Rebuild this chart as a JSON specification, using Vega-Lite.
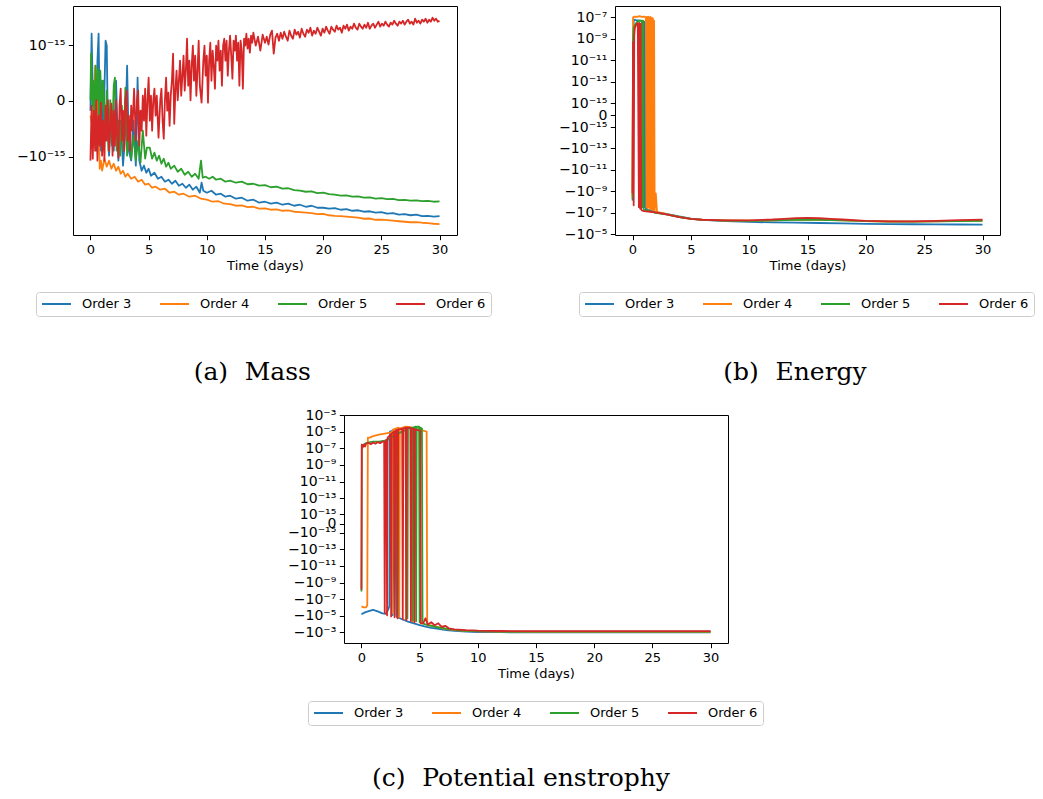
{
"$schema": "https://vega.github.io/schema/vega-lite/v6.json",
"padding": {"left": 16, "top": 5, "right": 2, "bottom": 2},
"background": "white",
"config": {
  "view": {"stroke": "black", "strokeWidth": 1},
  "font": "DejaVu Sans",
  "axis": {"labelFont": "DejaVu Sans", "labelFontSize": 13, "labelColor": "black", "tickColor": "black", "tickSize": 4.7, "tickWidth": 1, "domain": false, "grid": false, "labelPadding": 3.5, "titleFont": "DejaVu Sans", "titleFontSize": 13, "titleFontWeight": "normal", "titleColor": "black", "titlePadding": 3, "labelOverlap": false, "labelFlush": false, "labelBound": false},
  "axisY": {"labelFontSize": 14},
  "legend": {"direction": "horizontal", "columns": 4, "symbolType": "stroke", "symbolSize": 841, "symbolStrokeWidth": 1.8, "clipHeight": 14, "labelFont": "DejaVu Sans", "labelFontSize": 13, "labelColor": "black", "labelOffset": 10, "columnPadding": 27, "padding": 5, "strokeColor": "#cccccc", "fillColor": "white", "cornerRadius": 3, "labelLimit": 0}
},
"datasets": {
"mass": [
{"day":0,"value":-4.7e-17,"order":"Order 3"},{"day":0.1,"value":1.77e-15,"order":"Order 3"},{"day":0.2,"value":5.1e-17,"order":"Order 3"},{"day":0.3,"value":-4.38e-16,"order":"Order 3"},{"day":0.4,"value":0,"order":"Order 3"},{"day":0.5,"value":-7.42e-16,"order":"Order 3"},{"day":0.6,"value":4.52e-16,"order":"Order 3"},{"day":0.7,"value":1.77e-15,"order":"Order 3"},{"day":0.8,"value":-1.24e-16,"order":"Order 3"},{"day":0.9,"value":-7.42e-16,"order":"Order 3"},{"day":1.0,"value":1.3e-16,"order":"Order 3"},{"day":1.1,"value":-2.45e-16,"order":"Order 3"},{"day":1.2,"value":5.1e-17,"order":"Order 3"},{"day":1.3,"value":1.26e-15,"order":"Order 3"},{"day":1.4,"value":9.85e-16,"order":"Order 3"},{"day":1.5,"value":-2.45e-16,"order":"Order 3"},{"day":1.6,"value":-9.56e-16,"order":"Order 3"},{"day":1.8,"value":-4.7e-17,"order":"Order 3"},{"day":2.0,"value":-7.42e-16,"order":"Order 3"},{"day":2.2,"value":1.3e-16,"order":"Order 3"},{"day":2.4,"value":-1.22e-15,"order":"Order 3"},{"day":2.6,"value":-1.24e-16,"order":"Order 3"},{"day":2.8,"value":-1.56e-15,"order":"Order 3"},{"day":3.0,"value":-2.45e-16,"order":"Order 3"},{"day":3.15,"value":3.42e-16,"order":"Order 3"},{"day":3.3,"value":-7.42e-16,"order":"Order 3"},{"day":3.5,"value":-1.22e-15,"order":"Order 3"},{"day":3.7,"value":-1.24e-16,"order":"Order 3"},{"day":3.9,"value":-1.56e-15,"order":"Order 3"},{"day":4.05,"value":1.61e-16,"order":"Order 3"},{"day":4.2,"value":-1.22e-15,"order":"Order 3"},{"day":4.4,"value":-1.99e-15,"order":"Order 3"},{"day":4.6,"value":-1.56e-15,"order":"Order 3"},{"day":4.8,"value":-2.19e-15,"order":"Order 3"},{"day":5.0,"value":-1.81e-15,"order":"Order 3"},{"day":5.2,"value":-2.53e-15,"order":"Order 3"},{"day":5.5,"value":-2.19e-15,"order":"Order 3"},{"day":5.8,"value":-2.91e-15,"order":"Order 3"},{"day":6.1,"value":-2.65e-15,"order":"Order 3"},{"day":6.4,"value":-3.35e-15,"order":"Order 3"},{"day":6.7,"value":-3.05e-15,"order":"Order 3"},{"day":7.0,"value":-3.69e-15,"order":"Order 3"},{"day":7.3,"value":-3.2e-15,"order":"Order 3"},{"day":7.6,"value":-4.05e-15,"order":"Order 3"},{"day":7.9,"value":-3.69e-15,"order":"Order 3"},{"day":8.2,"value":-4.45e-15,"order":"Order 3"},{"day":8.5,"value":-3.86e-15,"order":"Order 3"},{"day":8.8,"value":-4.88e-15,"order":"Order 3"},{"day":9.1,"value":-4.24e-15,"order":"Order 3"},{"day":9.4,"value":-5.62e-15,"order":"Order 3"},{"day":9.55,"value":-3.52e-15,"order":"Order 3"},{"day":9.7,"value":-5.12e-15,"order":"Order 3"},{"day":10.0,"value":-5.62e-15,"order":"Order 3"},{"day":10.4,"value":-5.12e-15,"order":"Order 3"},{"day":10.8,"value":-6.17e-15,"order":"Order 3"},{"day":11.2,"value":-5.89e-15,"order":"Order 3"},{"day":11.6,"value":-6.77e-15,"order":"Order 3"},{"day":12.0,"value":-6.46e-15,"order":"Order 3"},{"day":12.5,"value":-7.43e-15,"order":"Order 3"},{"day":13.0,"value":-7.09e-15,"order":"Order 3"},{"day":13.5,"value":-8.16e-15,"order":"Order 3"},{"day":14.0,"value":-7.79e-15,"order":"Order 3"},{"day":14.5,"value":-8.95e-15,"order":"Order 3"},{"day":15.0,"value":-8.55e-15,"order":"Order 3"},{"day":15.5,"value":-9.38e-15,"order":"Order 3"},{"day":16,"value":-8.95e-15,"order":"Order 3"},{"day":16.5,"value":-9.83e-15,"order":"Order 3"},{"day":17,"value":-9.38e-15,"order":"Order 3"},{"day":17.5,"value":-1.03e-14,"order":"Order 3"},{"day":18,"value":-9.83e-15,"order":"Order 3"},{"day":18.5,"value":-1.08e-14,"order":"Order 3"},{"day":19,"value":-1.03e-14,"order":"Order 3"},{"day":19.5,"value":-1.13e-14,"order":"Order 3"},{"day":20,"value":-1.13e-14,"order":"Order 3"},{"day":20.5,"value":-1.18e-14,"order":"Order 3"},{"day":21,"value":-1.15e-14,"order":"Order 3"},{"day":21.5,"value":-1.24e-14,"order":"Order 3"},{"day":22,"value":-1.21e-14,"order":"Order 3"},{"day":22.5,"value":-1.3e-14,"order":"Order 3"},{"day":23,"value":-1.27e-14,"order":"Order 3"},{"day":23.5,"value":-1.36e-14,"order":"Order 3"},{"day":24,"value":-1.33e-14,"order":"Order 3"},{"day":24.5,"value":-1.42e-14,"order":"Order 3"},{"day":25,"value":-1.39e-14,"order":"Order 3"},{"day":25.5,"value":-1.49e-14,"order":"Order 3"},{"day":26,"value":-1.45e-14,"order":"Order 3"},{"day":26.5,"value":-1.56e-14,"order":"Order 3"},{"day":27,"value":-1.52e-14,"order":"Order 3"},{"day":27.5,"value":-1.6e-14,"order":"Order 3"},{"day":28,"value":-1.56e-14,"order":"Order 3"},{"day":28.5,"value":-1.67e-14,"order":"Order 3"},{"day":29,"value":-1.64e-14,"order":"Order 3"},{"day":29.5,"value":-1.71e-14,"order":"Order 3"},{"day":30,"value":-1.67e-14,"order":"Order 3"},
{"day":0,"value":-8.1e-17,"order":"Order 4"},{"day":0.1,"value":-1.44e-16,"order":"Order 4"},{"day":0.2,"value":-6e-17,"order":"Order 4"},{"day":0.3,"value":3e-18,"order":"Order 4"},{"day":0.4,"value":3.42e-16,"order":"Order 4"},{"day":0.5,"value":-4.7e-17,"order":"Order 4"},{"day":0.6,"value":5.1e-17,"order":"Order 4"},{"day":0.7,"value":-1.78e-16,"order":"Order 4"},{"day":0.8,"value":-1.81e-15,"order":"Order 4"},{"day":0.9,"value":-1.22e-15,"order":"Order 4"},{"day":1.0,"value":-1.99e-15,"order":"Order 4"},{"day":1.2,"value":-1.11e-15,"order":"Order 4"},{"day":1.4,"value":-1.64e-15,"order":"Order 4"},{"day":1.6,"value":-1.22e-15,"order":"Order 4"},{"day":1.8,"value":-1.81e-15,"order":"Order 4"},{"day":2.0,"value":-1.42e-15,"order":"Order 4"},{"day":2.2,"value":-1.99e-15,"order":"Order 4"},{"day":2.4,"value":-1.64e-15,"order":"Order 4"},{"day":2.6,"value":-2.3e-15,"order":"Order 4"},{"day":2.8,"value":-1.99e-15,"order":"Order 4"},{"day":3.0,"value":-2.65e-15,"order":"Order 4"},{"day":3.2,"value":-2.3e-15,"order":"Order 4"},{"day":3.5,"value":-2.91e-15,"order":"Order 4"},{"day":3.8,"value":-2.65e-15,"order":"Order 4"},{"day":4.1,"value":-3.35e-15,"order":"Order 4"},{"day":4.4,"value":-3.05e-15,"order":"Order 4"},{"day":4.7,"value":-3.86e-15,"order":"Order 4"},{"day":5.0,"value":-3.69e-15,"order":"Order 4"},{"day":5.3,"value":-4.45e-15,"order":"Order 4"},{"day":5.6,"value":-4.24e-15,"order":"Order 4"},{"day":6.0,"value":-4.88e-15,"order":"Order 4"},{"day":6.4,"value":-4.66e-15,"order":"Order 4"},{"day":6.8,"value":-5.62e-15,"order":"Order 4"},{"day":7.2,"value":-5.37e-15,"order":"Order 4"},{"day":7.6,"value":-6.17e-15,"order":"Order 4"},{"day":8.0,"value":-5.89e-15,"order":"Order 4"},{"day":8.5,"value":-6.77e-15,"order":"Order 4"},{"day":9.0,"value":-6.46e-15,"order":"Order 4"},{"day":9.5,"value":-7.43e-15,"order":"Order 4"},{"day":10.0,"value":-7.79e-15,"order":"Order 4"},{"day":10.5,"value":-8.55e-15,"order":"Order 4"},{"day":11.0,"value":-8.35e-15,"order":"Order 4"},{"day":11.5,"value":-9.38e-15,"order":"Order 4"},{"day":12.0,"value":-9.6e-15,"order":"Order 4"},{"day":12.5,"value":-1.03e-14,"order":"Order 4"},{"day":13,"value":-1.01e-14,"order":"Order 4"},{"day":13.5,"value":-1.1e-14,"order":"Order 4"},{"day":14,"value":-1.08e-14,"order":"Order 4"},{"day":14.5,"value":-1.18e-14,"order":"Order 4"},{"day":15,"value":-1.16e-14,"order":"Order 4"},{"day":15.5,"value":-1.24e-14,"order":"Order 4"},{"day":16,"value":-1.22e-14,"order":"Order 4"},{"day":16.5,"value":-1.3e-14,"order":"Order 4"},{"day":17,"value":-1.28e-14,"order":"Order 4"},{"day":17.5,"value":-1.36e-14,"order":"Order 4"},{"day":18,"value":-1.39e-14,"order":"Order 4"},{"day":18.5,"value":-1.42e-14,"order":"Order 4"},{"day":19,"value":-1.45e-14,"order":"Order 4"},{"day":19.5,"value":-1.52e-14,"order":"Order 4"},{"day":20,"value":-1.5e-14,"order":"Order 4"},{"day":20.5,"value":-1.6e-14,"order":"Order 4"},{"day":21,"value":-1.64e-14,"order":"Order 4"},{"day":21.5,"value":-1.67e-14,"order":"Order 4"},{"day":22,"value":-1.71e-14,"order":"Order 4"},{"day":22.5,"value":-1.75e-14,"order":"Order 4"},{"day":23,"value":-1.79e-14,"order":"Order 4"},{"day":23.5,"value":-1.88e-14,"order":"Order 4"},{"day":24,"value":-1.86e-14,"order":"Order 4"},{"day":24.5,"value":-1.97e-14,"order":"Order 4"},{"day":25,"value":-1.95e-14,"order":"Order 4"},{"day":25.5,"value":-2.01e-14,"order":"Order 4"},{"day":26,"value":-2.06e-14,"order":"Order 4"},{"day":26.5,"value":-2.11e-14,"order":"Order 4"},{"day":27,"value":-2.16e-14,"order":"Order 4"},{"day":27.5,"value":-2.21e-14,"order":"Order 4"},{"day":28,"value":-2.19e-14,"order":"Order 4"},{"day":28.5,"value":-2.26e-14,"order":"Order 4"},{"day":29,"value":-2.31e-14,"order":"Order 4"},{"day":29.5,"value":-2.37e-14,"order":"Order 4"},{"day":30,"value":-2.4e-14,"order":"Order 4"},
{"day":0,"value":3e-18,"order":"Order 5"},{"day":0.05,"value":6.56e-16,"order":"Order 5"},{"day":0.15,"value":-2e-17,"order":"Order 5"},{"day":0.25,"value":1.3e-16,"order":"Order 5"},{"day":0.35,"value":-1.24e-16,"order":"Order 5"},{"day":0.45,"value":3.42e-16,"order":"Order 5"},{"day":0.55,"value":3e-18,"order":"Order 5"},{"day":0.65,"value":2.87e-16,"order":"Order 5"},{"day":0.75,"value":-2.45e-16,"order":"Order 5"},{"day":0.85,"value":2.55e-16,"order":"Order 5"},{"day":0.95,"value":-4.7e-17,"order":"Order 5"},{"day":1.1,"value":1.3e-16,"order":"Order 5"},{"day":1.25,"value":-4.38e-16,"order":"Order 5"},{"day":1.4,"value":5.1e-17,"order":"Order 5"},{"day":1.55,"value":-7.42e-16,"order":"Order 5"},{"day":1.7,"value":3e-18,"order":"Order 5"},{"day":1.85,"value":-5.72e-16,"order":"Order 5"},{"day":2.0,"value":8.6e-17,"order":"Order 5"},{"day":2.1,"value":1.61e-16,"order":"Order 5"},{"day":2.25,"value":-7.42e-16,"order":"Order 5"},{"day":2.4,"value":-1.24e-16,"order":"Order 5"},{"day":2.55,"value":-9.56e-16,"order":"Order 5"},{"day":2.7,"value":-2e-17,"order":"Order 5"},{"day":2.85,"value":-7.42e-16,"order":"Order 5"},{"day":3.0,"value":7.1e-17,"order":"Order 5"},{"day":3.15,"value":-9.56e-16,"order":"Order 5"},{"day":3.3,"value":-2.45e-16,"order":"Order 5"},{"day":3.5,"value":-1.11e-15,"order":"Order 5"},{"day":3.7,"value":-3.3e-16,"order":"Order 5"},{"day":3.9,"value":-1.22e-15,"order":"Order 5"},{"day":4.1,"value":-4.38e-16,"order":"Order 5"},{"day":4.3,"value":-1.35e-15,"order":"Order 5"},{"day":4.5,"value":-2.45e-16,"order":"Order 5"},{"day":4.7,"value":-1.11e-15,"order":"Order 5"},{"day":4.85,"value":-6.36e-16,"order":"Order 5"},{"day":5.1,"value":-6.36e-16,"order":"Order 5"},{"day":5.3,"value":-1.11e-15,"order":"Order 5"},{"day":5.5,"value":-8.2e-16,"order":"Order 5"},{"day":5.7,"value":-1.22e-15,"order":"Order 5"},{"day":5.9,"value":-9.56e-16,"order":"Order 5"},{"day":6.1,"value":-1.42e-15,"order":"Order 5"},{"day":6.3,"value":-1.11e-15,"order":"Order 5"},{"day":6.5,"value":-1.64e-15,"order":"Order 5"},{"day":6.7,"value":-1.35e-15,"order":"Order 5"},{"day":6.9,"value":-1.81e-15,"order":"Order 5"},{"day":7.2,"value":-1.56e-15,"order":"Order 5"},{"day":7.5,"value":-2.09e-15,"order":"Order 5"},{"day":7.8,"value":-1.81e-15,"order":"Order 5"},{"day":8.1,"value":-2.41e-15,"order":"Order 5"},{"day":8.4,"value":-2.09e-15,"order":"Order 5"},{"day":8.7,"value":-2.65e-15,"order":"Order 5"},{"day":9.0,"value":-2.3e-15,"order":"Order 5"},{"day":9.3,"value":-2.91e-15,"order":"Order 5"},{"day":9.5,"value":-1.22e-15,"order":"Order 5"},{"day":9.65,"value":-2.78e-15,"order":"Order 5"},{"day":9.9,"value":-2.65e-15,"order":"Order 5"},{"day":10.2,"value":-2.91e-15,"order":"Order 5"},{"day":10.5,"value":-2.65e-15,"order":"Order 5"},{"day":10.8,"value":-3.05e-15,"order":"Order 5"},{"day":11.2,"value":-2.91e-15,"order":"Order 5"},{"day":11.6,"value":-3.35e-15,"order":"Order 5"},{"day":12.0,"value":-3.2e-15,"order":"Order 5"},{"day":12.5,"value":-3.52e-15,"order":"Order 5"},{"day":13.0,"value":-3.35e-15,"order":"Order 5"},{"day":13.5,"value":-3.78e-15,"order":"Order 5"},{"day":14.0,"value":-3.69e-15,"order":"Order 5"},{"day":14.5,"value":-4.05e-15,"order":"Order 5"},{"day":15.0,"value":-3.95e-15,"order":"Order 5"},{"day":15.5,"value":-4.35e-15,"order":"Order 5"},{"day":16,"value":-4.24e-15,"order":"Order 5"},{"day":16.5,"value":-4.66e-15,"order":"Order 5"},{"day":17,"value":-4.56e-15,"order":"Order 5"},{"day":17.5,"value":-5e-15,"order":"Order 5"},{"day":18,"value":-5.12e-15,"order":"Order 5"},{"day":18.5,"value":-5.37e-15,"order":"Order 5"},{"day":19,"value":-5.27e-15,"order":"Order 5"},{"day":19.5,"value":-5.75e-15,"order":"Order 5"},{"day":20,"value":-5.62e-15,"order":"Order 5"},{"day":20.5,"value":-6.03e-15,"order":"Order 5"},{"day":21,"value":-6.17e-15,"order":"Order 5"},{"day":21.5,"value":-6.46e-15,"order":"Order 5"},{"day":22,"value":-6.36e-15,"order":"Order 5"},{"day":22.5,"value":-6.77e-15,"order":"Order 5"},{"day":23,"value":-6.67e-15,"order":"Order 5"},{"day":23.5,"value":-7.09e-15,"order":"Order 5"},{"day":24,"value":-6.99e-15,"order":"Order 5"},{"day":24.5,"value":-7.43e-15,"order":"Order 5"},{"day":25,"value":-7.26e-15,"order":"Order 5"},{"day":25.5,"value":-7.61e-15,"order":"Order 5"},{"day":26,"value":-7.5e-15,"order":"Order 5"},{"day":26.5,"value":-7.97e-15,"order":"Order 5"},{"day":27,"value":-7.85e-15,"order":"Order 5"},{"day":27.5,"value":-8.16e-15,"order":"Order 5"},{"day":28,"value":-8.05e-15,"order":"Order 5"},{"day":28.5,"value":-8.35e-15,"order":"Order 5"},{"day":29,"value":-8.25e-15,"order":"Order 5"},{"day":29.5,"value":-8.55e-15,"order":"Order 5"},{"day":30,"value":-8.45e-15,"order":"Order 5"},
{"day":0,"value":-1.22e-15,"order":"Order 6"},{"day":0.1,"value":-2e-17,"order":"Order 6"},{"day":0.2,"value":-1.11e-15,"order":"Order 6"},{"day":0.3,"value":-4.7e-17,"order":"Order 6"},{"day":0.4,"value":-7.42e-16,"order":"Order 6"},{"day":0.5,"value":3e-18,"order":"Order 6"},{"day":0.6,"value":-1.22e-15,"order":"Order 6"},{"day":0.7,"value":-8.1e-17,"order":"Order 6"},{"day":0.8,"value":-5.72e-16,"order":"Order 6"},{"day":0.9,"value":-6.8e-18,"order":"Order 6"},{"day":1.0,"value":-9.56e-16,"order":"Order 6"},{"day":1.1,"value":-1.24e-16,"order":"Order 6"},{"day":1.2,"value":-1.22e-15,"order":"Order 6"},{"day":1.3,"value":-2e-17,"order":"Order 6"},{"day":1.4,"value":-4.38e-16,"order":"Order 6"},{"day":1.5,"value":3e-18,"order":"Order 6"},{"day":1.6,"value":-7.42e-16,"order":"Order 6"},{"day":1.7,"value":-1.78e-16,"order":"Order 6"},{"day":1.8,"value":-1.1e-17,"order":"Order 6"},{"day":1.9,"value":-9.56e-16,"order":"Order 6"},{"day":2.0,"value":-4.7e-17,"order":"Order 6"},{"day":2.1,"value":-5.72e-16,"order":"Order 6"},{"day":2.2,"value":3e-18,"order":"Order 6"},{"day":2.3,"value":-3.3e-16,"order":"Order 6"},{"day":2.4,"value":-1.06e-15,"order":"Order 6"},{"day":2.5,"value":-2e-17,"order":"Order 6"},{"day":2.6,"value":6.4e-17,"order":"Order 6"},{"day":2.7,"value":-4.38e-16,"order":"Order 6"},{"day":2.8,"value":-4.7e-17,"order":"Order 6"},{"day":2.9,"value":-7.42e-16,"order":"Order 6"},{"day":3.0,"value":3e-18,"order":"Order 6"},{"day":3.1,"value":5.1e-17,"order":"Order 6"},{"day":3.2,"value":-4.38e-16,"order":"Order 6"},{"day":3.3,"value":-8.1e-17,"order":"Order 6"},{"day":3.4,"value":-7.42e-16,"order":"Order 6"},{"day":3.5,"value":-2e-17,"order":"Order 6"},{"day":3.6,"value":-2.45e-16,"order":"Order 6"},{"day":3.75,"value":6.4e-17,"order":"Order 6"},{"day":3.9,"value":-4.38e-16,"order":"Order 6"},{"day":4.0,"value":3e-18,"order":"Order 6"},{"day":4.1,"value":5.1e-17,"order":"Order 6"},{"day":4.2,"value":-5.72e-16,"order":"Order 6"},{"day":4.3,"value":-4.7e-17,"order":"Order 6"},{"day":4.4,"value":-2.45e-16,"order":"Order 6"},{"day":4.5,"value":2.3e-17,"order":"Order 6"},{"day":4.6,"value":-1.24e-16,"order":"Order 6"},{"day":4.7,"value":6.4e-17,"order":"Order 6"},{"day":4.8,"value":-3.3e-16,"order":"Order 6"},{"day":4.9,"value":3e-18,"order":"Order 6"},{"day":5.0,"value":1.61e-16,"order":"Order 6"},{"day":5.1,"value":-1.24e-16,"order":"Order 6"},{"day":5.2,"value":2.3e-17,"order":"Order 6"},{"day":5.3,"value":-2.45e-16,"order":"Order 6"},{"day":5.4,"value":3e-18,"order":"Order 6"},{"day":5.5,"value":6.4e-17,"order":"Order 6"},{"day":5.6,"value":-8.1e-17,"order":"Order 6"},{"day":5.7,"value":2.3e-17,"order":"Order 6"},{"day":5.85,"value":-3.7e-16,"order":"Order 6"},{"day":6.0,"value":3e-18,"order":"Order 6"},{"day":6.1,"value":6.4e-17,"order":"Order 6"},{"day":6.2,"value":-1.24e-16,"order":"Order 6"},{"day":6.3,"value":-3.92e-16,"order":"Order 6"},{"day":6.4,"value":3e-18,"order":"Order 6"},{"day":6.5,"value":1.61e-16,"order":"Order 6"},{"day":6.6,"value":-4.7e-17,"order":"Order 6"},{"day":6.7,"value":3.9e-17,"order":"Order 6"},{"day":6.8,"value":-1.78e-16,"order":"Order 6"},{"day":6.9,"value":2.3e-17,"order":"Order 6"},{"day":7.0,"value":1.3e-16,"order":"Order 6"},{"day":7.1,"value":6.56e-16,"order":"Order 6"},{"day":7.2,"value":-1.55e-16,"order":"Order 6"},{"day":7.3,"value":5.1e-17,"order":"Order 6"},{"day":7.4,"value":2.55e-16,"order":"Order 6"},{"day":7.5,"value":3e-18,"order":"Order 6"},{"day":7.6,"value":1.3e-16,"order":"Order 6"},{"day":7.7,"value":4.52e-16,"order":"Order 6"},{"day":7.8,"value":2.3e-17,"order":"Order 6"},{"day":7.9,"value":1.85e-16,"order":"Order 6"},{"day":8.0,"value":5.91e-16,"order":"Order 6"},{"day":8.1,"value":5.1e-17,"order":"Order 6"},{"day":8.2,"value":2.55e-16,"order":"Order 6"},{"day":8.3,"value":1.39e-15,"order":"Order 6"},{"day":8.4,"value":8.6e-17,"order":"Order 6"},{"day":8.5,"value":4.52e-16,"order":"Order 6"},{"day":8.6,"value":3e-18,"order":"Order 6"},{"day":8.7,"value":3.42e-16,"order":"Order 6"},{"day":8.8,"value":9.85e-16,"order":"Order 6"},{"day":8.9,"value":1.3e-16,"order":"Order 6"},{"day":9.0,"value":5.91e-16,"order":"Order 6"},{"day":9.1,"value":2.3e-17,"order":"Order 6"},{"day":9.2,"value":2.55e-16,"order":"Order 6"},{"day":9.3,"value":1.26e-15,"order":"Order 6"},{"day":9.4,"value":8.6e-17,"order":"Order 6"},{"day":9.55,"value":-6.8e-18,"order":"Order 6"},{"day":9.7,"value":4.52e-16,"order":"Order 6"},{"day":9.8,"value":9.85e-16,"order":"Order 6"},{"day":9.9,"value":1.85e-16,"order":"Order 6"},{"day":10.0,"value":5.91e-16,"order":"Order 6"},{"day":10.1,"value":-6.8e-18,"order":"Order 6"},{"day":10.2,"value":4.52e-16,"order":"Order 6"},{"day":10.3,"value":1.14e-15,"order":"Order 6"},{"day":10.4,"value":1.3e-16,"order":"Order 6"},{"day":10.5,"value":7.65e-16,"order":"Order 6"},{"day":10.6,"value":3.42e-16,"order":"Order 6"},{"day":10.7,"value":6.4e-17,"order":"Order 6"},{"day":10.8,"value":9.85e-16,"order":"Order 6"},{"day":10.9,"value":4.52e-16,"order":"Order 6"},{"day":11.0,"value":1.26e-15,"order":"Order 6"},{"day":11.1,"value":2.55e-16,"order":"Order 6"},{"day":11.2,"value":7.65e-16,"order":"Order 6"},{"day":11.3,"value":8.6e-17,"order":"Order 6"},{"day":11.4,"value":9.85e-16,"order":"Order 6"},{"day":11.5,"value":1.39e-15,"order":"Order 6"},{"day":11.6,"value":4.52e-16,"order":"Order 6"},{"day":11.7,"value":1.26e-15,"order":"Order 6"},{"day":11.8,"value":1.85e-16,"order":"Order 6"},{"day":11.9,"value":7.65e-16,"order":"Order 6"},{"day":12.0,"value":1.61e-15,"order":"Order 6"},{"day":12.1,"value":5.91e-16,"order":"Order 6"},{"day":12.2,"value":1.5e-16,"order":"Order 6"},{"day":12.3,"value":1.26e-15,"order":"Order 6"},{"day":12.4,"value":7.65e-16,"order":"Order 6"},{"day":12.5,"value":1.61e-15,"order":"Order 6"},{"day":12.6,"value":4.52e-16,"order":"Order 6"},{"day":12.7,"value":1.14e-15,"order":"Order 6"},{"day":12.8,"value":8.6e-17,"order":"Order 6"},{"day":12.9,"value":1.26e-15,"order":"Order 6"},{"day":13.0,"value":7.65e-16,"order":"Order 6"},{"day":13.1,"value":6.4e-17,"order":"Order 6"},{"day":13.2,"value":1.39e-15,"order":"Order 6"},{"day":13.3,"value":9.85e-16,"order":"Order 6"},{"day":13.4,"value":1.77e-15,"order":"Order 6"},{"day":13.5,"value":8.47e-16,"order":"Order 6"},{"day":13.6,"value":1.39e-15,"order":"Order 6"},{"day":13.7,"value":6.91e-16,"order":"Order 6"},{"day":13.8,"value":1.61e-15,"order":"Order 6"},{"day":13.9,"value":1.14e-15,"order":"Order 6"},{"day":14.0,"value":1.86e-15,"order":"Order 6"},{"day":14.2,"value":9.85e-16,"order":"Order 6"},{"day":14.4,"value":1.53e-15,"order":"Order 6"},{"day":14.6,"value":7.65e-16,"order":"Order 6"},{"day":14.8,"value":1.69e-15,"order":"Order 6"},
{"day":15.0,"value":1.14e-15,"order":"Order 6"},{"day":15.15,"value":1.53e-15,"order":"Order 6"},{"day":15.3,"value":1.04e-15,"order":"Order 6"},{"day":15.45,"value":1.69e-15,"order":"Order 6"},{"day":15.6,"value":2.05e-15,"order":"Order 6"},{"day":15.75,"value":6.56e-16,"order":"Order 6"},{"day":15.9,"value":1.46e-15,"order":"Order 6"},{"day":16.05,"value":1.77e-15,"order":"Order 6"},{"day":16.2,"value":1.26e-15,"order":"Order 6"},{"day":16.35,"value":1.86e-15,"order":"Order 6"},{"day":16.5,"value":1.39e-15,"order":"Order 6"},{"day":16.65,"value":1.95e-15,"order":"Order 6"},{"day":16.8,"value":1.53e-15,"order":"Order 6"},{"day":16.95,"value":1.26e-15,"order":"Order 6"},{"day":17.1,"value":2.05e-15,"order":"Order 6"},{"day":17.25,"value":1.61e-15,"order":"Order 6"},{"day":17.4,"value":1.39e-15,"order":"Order 6"},{"day":17.55,"value":2.15e-15,"order":"Order 6"},{"day":17.7,"value":1.69e-15,"order":"Order 6"},{"day":17.85,"value":1.95e-15,"order":"Order 6"},{"day":18.0,"value":1.46e-15,"order":"Order 6"},{"day":18.15,"value":2.25e-15,"order":"Order 6"},{"day":18.3,"value":1.77e-15,"order":"Order 6"},{"day":18.45,"value":1.53e-15,"order":"Order 6"},{"day":18.6,"value":2.15e-15,"order":"Order 6"},{"day":18.75,"value":1.86e-15,"order":"Order 6"},{"day":18.9,"value":2.36e-15,"order":"Order 6"},{"day":19.05,"value":1.61e-15,"order":"Order 6"},{"day":19.2,"value":2.05e-15,"order":"Order 6"},{"day":19.35,"value":1.77e-15,"order":"Order 6"},{"day":19.5,"value":2.36e-15,"order":"Order 6"},{"day":19.65,"value":1.95e-15,"order":"Order 6"},{"day":19.8,"value":1.61e-15,"order":"Order 6"},{"day":19.95,"value":2.25e-15,"order":"Order 6"},{"day":20.1,"value":1.86e-15,"order":"Order 6"},{"day":20.25,"value":2.48e-15,"order":"Order 6"},{"day":20.4,"value":2.05e-15,"order":"Order 6"},{"day":20.55,"value":1.77e-15,"order":"Order 6"},{"day":20.7,"value":2.48e-15,"order":"Order 6"},{"day":20.85,"value":2.15e-15,"order":"Order 6"},{"day":21.0,"value":1.95e-15,"order":"Order 6"},{"day":21.15,"value":2.6e-15,"order":"Order 6"},{"day":21.3,"value":2.15e-15,"order":"Order 6"},{"day":21.45,"value":2.36e-15,"order":"Order 6"},{"day":21.6,"value":1.86e-15,"order":"Order 6"},{"day":21.75,"value":2.6e-15,"order":"Order 6"},{"day":21.9,"value":2.25e-15,"order":"Order 6"},{"day":22.05,"value":2.73e-15,"order":"Order 6"},{"day":22.2,"value":2.05e-15,"order":"Order 6"},{"day":22.35,"value":2.48e-15,"order":"Order 6"},{"day":22.5,"value":2.25e-15,"order":"Order 6"},{"day":22.65,"value":2.86e-15,"order":"Order 6"},{"day":22.8,"value":2.36e-15,"order":"Order 6"},{"day":22.95,"value":2.15e-15,"order":"Order 6"},{"day":23.1,"value":2.86e-15,"order":"Order 6"},{"day":23.25,"value":2.48e-15,"order":"Order 6"},{"day":23.4,"value":2.25e-15,"order":"Order 6"},{"day":23.55,"value":2.73e-15,"order":"Order 6"},{"day":23.7,"value":2.36e-15,"order":"Order 6"},{"day":23.85,"value":2.99e-15,"order":"Order 6"},{"day":24.0,"value":2.25e-15,"order":"Order 6"},{"day":24.15,"value":2.6e-15,"order":"Order 6"},{"day":24.3,"value":2.86e-15,"order":"Order 6"},{"day":24.45,"value":2.36e-15,"order":"Order 6"},{"day":24.6,"value":2.73e-15,"order":"Order 6"},{"day":24.75,"value":3.14e-15,"order":"Order 6"},{"day":24.9,"value":2.48e-15,"order":"Order 6"},{"day":25.05,"value":2.86e-15,"order":"Order 6"},{"day":25.2,"value":2.6e-15,"order":"Order 6"},{"day":25.35,"value":3.14e-15,"order":"Order 6"},{"day":25.5,"value":2.73e-15,"order":"Order 6"},{"day":25.65,"value":2.48e-15,"order":"Order 6"},{"day":25.8,"value":2.99e-15,"order":"Order 6"},{"day":25.95,"value":2.73e-15,"order":"Order 6"},{"day":26.1,"value":3.29e-15,"order":"Order 6"},{"day":26.25,"value":2.86e-15,"order":"Order 6"},{"day":26.4,"value":2.6e-15,"order":"Order 6"},{"day":26.55,"value":3.14e-15,"order":"Order 6"},{"day":26.7,"value":2.86e-15,"order":"Order 6"},{"day":26.85,"value":3.29e-15,"order":"Order 6"},{"day":27.0,"value":2.73e-15,"order":"Order 6"},{"day":27.15,"value":3.14e-15,"order":"Order 6"},{"day":27.3,"value":3.45e-15,"order":"Order 6"},{"day":27.45,"value":2.86e-15,"order":"Order 6"},{"day":27.6,"value":3.14e-15,"order":"Order 6"},{"day":27.75,"value":2.73e-15,"order":"Order 6"},{"day":27.9,"value":3.62e-15,"order":"Order 6"},{"day":28.05,"value":2.99e-15,"order":"Order 6"},{"day":28.2,"value":3.29e-15,"order":"Order 6"},{"day":28.35,"value":2.86e-15,"order":"Order 6"},{"day":28.5,"value":3.45e-15,"order":"Order 6"},{"day":28.65,"value":3.14e-15,"order":"Order 6"},{"day":28.8,"value":3.62e-15,"order":"Order 6"},{"day":28.95,"value":2.99e-15,"order":"Order 6"},{"day":29.1,"value":3.45e-15,"order":"Order 6"},{"day":29.25,"value":3.14e-15,"order":"Order 6"},{"day":29.4,"value":3.79e-15,"order":"Order 6"},{"day":29.55,"value":3.29e-15,"order":"Order 6"},{"day":29.7,"value":3.62e-15,"order":"Order 6"},{"day":29.85,"value":3.14e-15,"order":"Order 6"},{"day":30.0,"value":3.29e-15,"order":"Order 6"}
],
"energy": [
{"day":0,"value":-7.5e-9,"order":"Order 3"},{"day":0.05,"value":-2e-9,"order":"Order 3"},{"day":0.1,"value":6.1e-8,"order":"Order 3"},{"day":0.3,"value":5.5e-8,"order":"Order 3"},{"day":0.6,"value":5e-8,"order":"Order 3"},{"day":0.9,"value":4.5e-8,"order":"Order 3"},{"day":0.95,"value":-2e-8,"order":"Order 3"},{"day":1.0,"value":4e-8,"order":"Order 3"},{"day":1.05,"value":-3e-8,"order":"Order 3"},{"day":1.1,"value":3e-8,"order":"Order 3"},{"day":1.15,"value":-4e-8,"order":"Order 3"},{"day":1.2,"value":-5e-8,"order":"Order 3"},{"day":1.5,"value":-6e-8,"order":"Order 3"},{"day":2.0,"value":-1e-7,"order":"Order 3"},{"day":2.5,"value":-1.1e-7,"order":"Order 3"},{"day":3,"value":-1.3e-7,"order":"Order 3"},{"day":4,"value":-2.2e-7,"order":"Order 3"},{"day":5,"value":-3.5e-7,"order":"Order 3"},{"day":6,"value":-4.6e-7,"order":"Order 3"},{"day":8,"value":-6e-7,"order":"Order 3"},{"day":10,"value":-7e-7,"order":"Order 3"},{"day":12,"value":-7.8e-7,"order":"Order 3"},{"day":14,"value":-8.3e-7,"order":"Order 3"},{"day":16,"value":-8.8e-7,"order":"Order 3"},{"day":18,"value":-9.5e-7,"order":"Order 3"},{"day":20,"value":-1.05e-6,"order":"Order 3"},{"day":22,"value":-1.1e-6,"order":"Order 3"},{"day":24,"value":-1.15e-6,"order":"Order 3"},{"day":26,"value":-1.2e-6,"order":"Order 3"},{"day":28,"value":-1.22e-6,"order":"Order 3"},{"day":30,"value":-1.25e-6,"order":"Order 3"},
{"day":0,"value":-3e-9,"order":"Order 4"},{"day":0.05,"value":1e-7,"order":"Order 4"},{"day":0.2,"value":1.2e-7,"order":"Order 4"},{"day":0.4,"value":1.1e-7,"order":"Order 4"},{"day":0.6,"value":1.3e-7,"order":"Order 4"},{"day":0.8,"value":1.1e-7,"order":"Order 4"},{"day":1.0,"value":1.2e-7,"order":"Order 4"},{"day":1.15,"value":1e-7,"order":"Order 4"},{"day":1.2,"value":-3e-8,"order":"Order 4"},{"day":1.25,"value":1.1e-7,"order":"Order 4"},{"day":1.3,"value":-4e-8,"order":"Order 4"},{"day":1.35,"value":1.2e-7,"order":"Order 4"},{"day":1.4,"value":-3e-8,"order":"Order 4"},{"day":1.45,"value":1e-7,"order":"Order 4"},{"day":1.5,"value":-4e-8,"order":"Order 4"},{"day":1.55,"value":1.1e-7,"order":"Order 4"},{"day":1.6,"value":-5e-8,"order":"Order 4"},{"day":1.65,"value":9e-8,"order":"Order 4"},{"day":1.7,"value":-5e-8,"order":"Order 4"},{"day":1.75,"value":8e-8,"order":"Order 4"},{"day":1.8,"value":-6e-8,"order":"Order 4"},{"day":1.85,"value":5e-8,"order":"Order 4"},{"day":1.9,"value":-7e-8,"order":"Order 4"},{"day":2.0,"value":-1.6e-9,"order":"Order 4"},{"day":2.1,"value":-8e-8,"order":"Order 4"},{"day":2.5,"value":-1e-7,"order":"Order 4"},{"day":3,"value":-1.4e-7,"order":"Order 4"},{"day":4,"value":-2.4e-7,"order":"Order 4"},{"day":5,"value":-3.6e-7,"order":"Order 4"},{"day":6,"value":-4.5e-7,"order":"Order 4"},{"day":8,"value":-5.2e-7,"order":"Order 4"},{"day":10,"value":-5.4e-7,"order":"Order 4"},{"day":12,"value":-5e-7,"order":"Order 4"},{"day":14,"value":-4.5e-7,"order":"Order 4"},{"day":15,"value":-4.3e-7,"order":"Order 4"},{"day":16,"value":-4.4e-7,"order":"Order 4"},{"day":18,"value":-5e-7,"order":"Order 4"},{"day":20,"value":-5.8e-7,"order":"Order 4"},{"day":22,"value":-6.4e-7,"order":"Order 4"},{"day":24,"value":-6.5e-7,"order":"Order 4"},{"day":26,"value":-6.2e-7,"order":"Order 4"},{"day":28,"value":-5.7e-7,"order":"Order 4"},{"day":30,"value":-5.4e-7,"order":"Order 4"},
{"day":0,"value":-5e-9,"order":"Order 5"},{"day":0.05,"value":1e-9,"order":"Order 5"},{"day":0.1,"value":1e-8,"order":"Order 5"},{"day":0.2,"value":2e-8,"order":"Order 5"},{"day":0.4,"value":4e-8,"order":"Order 5"},{"day":0.6,"value":5e-8,"order":"Order 5"},{"day":0.8,"value":5e-8,"order":"Order 5"},{"day":0.85,"value":-3e-8,"order":"Order 5"},{"day":0.9,"value":5e-8,"order":"Order 5"},{"day":0.95,"value":-4e-8,"order":"Order 5"},{"day":1.0,"value":-5e-8,"order":"Order 5"},{"day":1.2,"value":-6e-8,"order":"Order 5"},{"day":1.5,"value":-7e-8,"order":"Order 5"},{"day":2,"value":-1e-7,"order":"Order 5"},{"day":3,"value":-1.45e-7,"order":"Order 5"},{"day":4,"value":-2.45e-7,"order":"Order 5"},{"day":5,"value":-3.7e-7,"order":"Order 5"},{"day":6,"value":-4.6e-7,"order":"Order 5"},{"day":8,"value":-5.3e-7,"order":"Order 5"},{"day":10,"value":-5.5e-7,"order":"Order 5"},{"day":12,"value":-5.1e-7,"order":"Order 5"},{"day":14,"value":-4.6e-7,"order":"Order 5"},{"day":15,"value":-4.4e-7,"order":"Order 5"},{"day":16,"value":-4.5e-7,"order":"Order 5"},{"day":18,"value":-5.1e-7,"order":"Order 5"},{"day":20,"value":-5.9e-7,"order":"Order 5"},{"day":22,"value":-6.5e-7,"order":"Order 5"},{"day":24,"value":-6.6e-7,"order":"Order 5"},{"day":26,"value":-6.3e-7,"order":"Order 5"},{"day":28,"value":-5.8e-7,"order":"Order 5"},{"day":30,"value":-5.5e-7,"order":"Order 5"},
{"day":0,"value":-1.5e-9,"order":"Order 6"},{"day":0.05,"value":5e-10,"order":"Order 6"},{"day":0.1,"value":-2e-8,"order":"Order 6"},{"day":0.15,"value":2e-9,"order":"Order 6"},{"day":0.2,"value":1e-8,"order":"Order 6"},{"day":0.3,"value":2e-8,"order":"Order 6"},{"day":0.45,"value":3e-8,"order":"Order 6"},{"day":0.55,"value":-3e-8,"order":"Order 6"},{"day":0.6,"value":3e-8,"order":"Order 6"},{"day":0.65,"value":-4e-8,"order":"Order 6"},{"day":0.7,"value":2.5e-8,"order":"Order 6"},{"day":0.75,"value":-5e-8,"order":"Order 6"},{"day":0.8,"value":-6e-8,"order":"Order 6"},{"day":1.0,"value":-7e-8,"order":"Order 6"},{"day":1.5,"value":-8e-8,"order":"Order 6"},{"day":2,"value":-9e-8,"order":"Order 6"},{"day":3,"value":-1.5e-7,"order":"Order 6"},{"day":4,"value":-2.5e-7,"order":"Order 6"},{"day":5,"value":-3.6e-7,"order":"Order 6"},{"day":6,"value":-4.4e-7,"order":"Order 6"},{"day":8,"value":-5e-7,"order":"Order 6"},{"day":10,"value":-5e-7,"order":"Order 6"},{"day":12,"value":-4.2e-7,"order":"Order 6"},{"day":13,"value":-3.6e-7,"order":"Order 6"},{"day":14,"value":-3.1e-7,"order":"Order 6"},{"day":15,"value":-3e-7,"order":"Order 6"},{"day":16,"value":-3.2e-7,"order":"Order 6"},{"day":17,"value":-3.6e-7,"order":"Order 6"},{"day":18,"value":-4.2e-7,"order":"Order 6"},{"day":20,"value":-5.6e-7,"order":"Order 6"},{"day":22,"value":-6.2e-7,"order":"Order 6"},{"day":24,"value":-6.2e-7,"order":"Order 6"},{"day":26,"value":-5.6e-7,"order":"Order 6"},{"day":28,"value":-4.8e-7,"order":"Order 6"},{"day":30,"value":-4.3e-7,"order":"Order 6"}
],
"enstrophy": [
{"day":0,"value":-6.7e-6,"order":"Order 3"},{"day":0.3,"value":-3.9e-6,"order":"Order 3"},{"day":0.7,"value":-2.55e-6,"order":"Order 3"},{"day":1.0,"value":-1.9e-6,"order":"Order 3"},{"day":1.4,"value":-2.9e-6,"order":"Order 3"},{"day":1.8,"value":-5.1e-6,"order":"Order 3"},{"day":2.1,"value":-5.9e-6,"order":"Order 3"},{"day":2.3,"value":-1.8e-6,"order":"Order 3"},{"day":2.4,"value":-6.8e-7,"order":"Order 3"},{"day":2.45,"value":1e-5,"order":"Order 3"},{"day":2.6,"value":1.2e-5,"order":"Order 3"},{"day":2.65,"value":-8e-6,"order":"Order 3"},{"day":2.75,"value":1.3e-5,"order":"Order 3"},{"day":2.85,"value":-1e-5,"order":"Order 3"},{"day":2.95,"value":1e-5,"order":"Order 3"},{"day":3.05,"value":-1.4e-5,"order":"Order 3"},{"day":3.3,"value":-2e-5,"order":"Order 3"},{"day":3.6,"value":-3e-5,"order":"Order 3"},{"day":4.0,"value":-5e-5,"order":"Order 3"},{"day":4.5,"value":-8e-5,"order":"Order 3"},{"day":5.0,"value":-1.3e-4,"order":"Order 3"},{"day":5.5,"value":-2e-4,"order":"Order 3"},{"day":6.0,"value":-2.8e-4,"order":"Order 3"},{"day":6.5,"value":-3.6e-4,"order":"Order 3"},{"day":7.0,"value":-4.5e-4,"order":"Order 3"},{"day":7.5,"value":-5.5e-4,"order":"Order 3"},{"day":8.0,"value":-6.5e-4,"order":"Order 3"},{"day":9.0,"value":-8e-4,"order":"Order 3"},{"day":10,"value":-9e-4,"order":"Order 3"},{"day":12,"value":-9.5e-4,"order":"Order 3"},{"day":15,"value":-9.7e-4,"order":"Order 3"},{"day":20,"value":-9.8e-4,"order":"Order 3"},{"day":25,"value":-9.8e-4,"order":"Order 3"},{"day":30,"value":-9.8e-4,"order":"Order 3"},
{"day":0,"value":-7.3e-7,"order":"Order 4"},{"day":0.2,"value":-9.7e-7,"order":"Order 4"},{"day":0.4,"value":-9.7e-7,"order":"Order 4"},{"day":0.5,"value":-5.5e-7,"order":"Order 4"},{"day":0.55,"value":1.9e-6,"order":"Order 4"},{"day":0.7,"value":1.9e-6,"order":"Order 4"},{"day":1.0,"value":2.85e-6,"order":"Order 4"},{"day":1.5,"value":4.3e-6,"order":"Order 4"},{"day":2.0,"value":5.7e-6,"order":"Order 4"},{"day":2.5,"value":7.5e-6,"order":"Order 4"},{"day":2.6,"value":1e-5,"order":"Order 4"},{"day":2.65,"value":-5e-6,"order":"Order 4"},{"day":2.7,"value":1.7e-5,"order":"Order 4"},{"day":3.2,"value":3e-5,"order":"Order 4"},{"day":3.25,"value":-1.5e-5,"order":"Order 4"},{"day":3.3,"value":2.3e-5,"order":"Order 4"},{"day":3.8,"value":4e-5,"order":"Order 4"},{"day":3.85,"value":-2.7e-5,"order":"Order 4"},{"day":3.9,"value":4e-5,"order":"Order 4"},{"day":4.35,"value":3e-5,"order":"Order 4"},{"day":4.4,"value":-4.6e-5,"order":"Order 4"},{"day":4.45,"value":2.3e-5,"order":"Order 4"},{"day":5.0,"value":1.7e-5,"order":"Order 4"},{"day":5.6,"value":1e-5,"order":"Order 4"},{"day":5.65,"value":-1.4e-4,"order":"Order 4"},{"day":6.0,"value":-1.4e-4,"order":"Order 4"},{"day":6.5,"value":-2.2e-4,"order":"Order 4"},{"day":7.0,"value":-3.2e-4,"order":"Order 4"},{"day":7.5,"value":-4.2e-4,"order":"Order 4"},{"day":8.0,"value":-5.2e-4,"order":"Order 4"},{"day":9.0,"value":-6.6e-4,"order":"Order 4"},{"day":10,"value":-7.4e-4,"order":"Order 4"},{"day":12,"value":-8.2e-4,"order":"Order 4"},{"day":15,"value":-8.5e-4,"order":"Order 4"},{"day":20,"value":-8.6e-4,"order":"Order 4"},{"day":25,"value":-8.6e-4,"order":"Order 4"},{"day":30,"value":-8.6e-4,"order":"Order 4"},
{"day":0,"value":-1.2e-8,"order":"Order 5"},{"day":0.03,"value":2.7e-7,"order":"Order 5"},{"day":0.1,"value":2.1e-7,"order":"Order 5"},{"day":0.3,"value":3.6e-7,"order":"Order 5"},{"day":0.6,"value":4.7e-7,"order":"Order 5"},{"day":1.0,"value":6.2e-7,"order":"Order 5"},{"day":1.5,"value":6.2e-7,"order":"Order 5"},{"day":2.0,"value":8.2e-7,"order":"Order 5"},{"day":2.3,"value":1.08e-6,"order":"Order 5"},{"day":2.5,"value":1.9e-6,"order":"Order 5"},{"day":3.0,"value":4.3e-6,"order":"Order 5"},{"day":3.1,"value":-8.9e-6,"order":"Order 5"},{"day":3.15,"value":5.7e-6,"order":"Order 5"},{"day":3.5,"value":1e-5,"order":"Order 5"},{"day":3.9,"value":1.7e-5,"order":"Order 5"},{"day":3.95,"value":-2e-5,"order":"Order 5"},{"day":4.0,"value":2.3e-5,"order":"Order 5"},{"day":4.35,"value":3e-5,"order":"Order 5"},{"day":4.4,"value":-3.5e-5,"order":"Order 5"},{"day":4.45,"value":3e-5,"order":"Order 5"},{"day":4.65,"value":4e-5,"order":"Order 5"},{"day":4.7,"value":-4.6e-5,"order":"Order 5"},{"day":4.75,"value":4e-5,"order":"Order 5"},{"day":4.95,"value":4e-5,"order":"Order 5"},{"day":5.0,"value":-6e-5,"order":"Order 5"},{"day":5.05,"value":3e-5,"order":"Order 5"},{"day":5.2,"value":2.3e-5,"order":"Order 5"},{"day":5.25,"value":-8.1e-5,"order":"Order 5"},{"day":5.5,"value":-1.1e-4,"order":"Order 5"},{"day":6.0,"value":-1.6e-4,"order":"Order 5"},{"day":6.5,"value":-2.4e-4,"order":"Order 5"},{"day":6.9,"value":-3e-4,"order":"Order 5"},{"day":7.0,"value":-2e-4,"order":"Order 5"},{"day":7.1,"value":-3.3e-4,"order":"Order 5"},{"day":7.5,"value":-4e-4,"order":"Order 5"},{"day":8.0,"value":-5e-4,"order":"Order 5"},{"day":9.0,"value":-6.4e-4,"order":"Order 5"},{"day":10,"value":-7.2e-4,"order":"Order 5"},{"day":12,"value":-7.8e-4,"order":"Order 5"},{"day":15,"value":-8e-4,"order":"Order 5"},{"day":20,"value":-8.1e-4,"order":"Order 5"},{"day":25,"value":-8.1e-4,"order":"Order 5"},{"day":30,"value":-8.1e-4,"order":"Order 5"},
{"day":0,"value":-6.7e-9,"order":"Order 6"},{"day":0.03,"value":2.7e-7,"order":"Order 6"},{"day":0.1,"value":1.2e-7,"order":"Order 6"},{"day":0.2,"value":2.7e-7,"order":"Order 6"},{"day":0.3,"value":1.56e-7,"order":"Order 6"},{"day":0.4,"value":3.6e-7,"order":"Order 6"},{"day":0.6,"value":4.7e-7,"order":"Order 6"},{"day":0.8,"value":3.1e-7,"order":"Order 6"},{"day":1.0,"value":4.7e-7,"order":"Order 6"},{"day":1.2,"value":3.6e-7,"order":"Order 6"},{"day":1.4,"value":5.5e-7,"order":"Order 6"},{"day":1.6,"value":4.1e-7,"order":"Order 6"},{"day":1.8,"value":6.2e-7,"order":"Order 6"},{"day":1.95,"value":6.2e-7,"order":"Order 6"},{"day":2.0,"value":-5.1e-6,"order":"Order 6"},{"day":2.05,"value":6.2e-7,"order":"Order 6"},{"day":2.15,"value":1.1e-6,"order":"Order 6"},{"day":2.2,"value":-8.9e-6,"order":"Order 6"},{"day":2.25,"value":1.9e-6,"order":"Order 6"},{"day":2.5,"value":4.3e-6,"order":"Order 6"},{"day":2.55,"value":-1.2e-5,"order":"Order 6"},{"day":2.6,"value":5.7e-6,"order":"Order 6"},{"day":2.8,"value":1e-5,"order":"Order 6"},{"day":2.85,"value":-1.5e-5,"order":"Order 6"},{"day":2.9,"value":1.3e-5,"order":"Order 6"},{"day":3.05,"value":1.7e-5,"order":"Order 6"},{"day":3.1,"value":-2e-5,"order":"Order 6"},{"day":3.15,"value":1.7e-5,"order":"Order 6"},{"day":3.5,"value":2.3e-5,"order":"Order 6"},{"day":3.55,"value":-2.7e-5,"order":"Order 6"},{"day":3.6,"value":2.3e-5,"order":"Order 6"},{"day":3.8,"value":3e-5,"order":"Order 6"},{"day":3.85,"value":-3.5e-5,"order":"Order 6"},{"day":3.9,"value":3e-5,"order":"Order 6"},{"day":4.2,"value":3e-5,"order":"Order 6"},{"day":4.25,"value":-4.6e-5,"order":"Order 6"},{"day":4.3,"value":2.3e-5,"order":"Order 6"},{"day":4.5,"value":2.3e-5,"order":"Order 6"},{"day":4.55,"value":-6e-5,"order":"Order 6"},{"day":4.6,"value":1.7e-5,"order":"Order 6"},{"day":5.05,"value":1.3e-5,"order":"Order 6"},{"day":5.1,"value":-8e-5,"order":"Order 6"},{"day":5.3,"value":-8e-5,"order":"Order 6"},{"day":5.5,"value":-2e-5,"order":"Order 6"},{"day":5.7,"value":-1.1e-4,"order":"Order 6"},{"day":6.0,"value":-6e-5,"order":"Order 6"},{"day":6.3,"value":-1.4e-4,"order":"Order 6"},{"day":6.6,"value":-8e-5,"order":"Order 6"},{"day":6.9,"value":-2.2e-4,"order":"Order 6"},{"day":7.2,"value":-1.6e-4,"order":"Order 6"},{"day":7.5,"value":-3.2e-4,"order":"Order 6"},{"day":8.0,"value":-4.2e-4,"order":"Order 6"},{"day":9.0,"value":-5.4e-4,"order":"Order 6"},{"day":10,"value":-6.2e-4,"order":"Order 6"},{"day":12,"value":-6.8e-4,"order":"Order 6"},{"day":15,"value":-7e-4,"order":"Order 6"},{"day":20,"value":-7.1e-4,"order":"Order 6"},{"day":25,"value":-7.1e-4,"order":"Order 6"},{"day":30,"value":-7.1e-4,"order":"Order 6"}
]
},
"vconcat": [
{
"hconcat": [
{
"width": 384, "height": 229,
"data": {"name": "mass"},
"title": {"text": "(a)\u2002\u2006Mass", "orient": "bottom", "anchor": "middle", "frame": "group", "baseline": "alphabetic", "offset": 63, "dx": -12.7, "font": "DejaVu Serif", "fontSize": 25, "fontWeight": "normal", "color": "black"},
"mark": {"type": "line", "strokeWidth": 1.8, "strokeJoin": "round", "clip": true},
"encoding": {
"x": {"field": "day", "type": "quantitative", "scale": {"domain": [-1.5, 31.5], "nice": false, "zero": false}, "axis": {"values": [0,5,10,15,20,25,30], "title": "Time (days)"}},
"y": {"field": "value", "type": "quantitative", "scale": {"type": "symlog", "constant": 8.4e-17, "domain": [-3.98e-14, 6.55e-15], "nice": false, "zero": false}, "axis": {"values": [1e-15, 0, -1e-15], "title": null, "labelExpr": "datum.value == 0 ? '0' : (datum.value < 0 ? '\u2212' : '') + '10\u207b' + (round(-log(abs(datum.value))/LN10) >= 10 ? substring('\u2070\u00b9\u00b2\u00b3\u2074\u2075\u2076\u2077\u2078\u2079', floor(round(-log(abs(datum.value))/LN10)/10), floor(round(-log(abs(datum.value))/LN10)/10) + 1) : '') + substring('\u2070\u00b9\u00b2\u00b3\u2074\u2075\u2076\u2077\u2078\u2079', round(-log(abs(datum.value))/LN10) % 10, round(-log(abs(datum.value))/LN10) % 10 + 1)"}},
"color": {"field": "order", "type": "nominal", "scale": {"domain": ["Order 3","Order 4","Order 5","Order 6"], "range": ["#1f77b4","#ff7f0e","#2ca02c","#d62728"]}, "legend": {"title": null, "orient": "none", "legendX": -37, "legendY": 286}}
}
},
{
"width": 385, "height": 229,
"data": {"name": "energy"},
"title": {"text": "(b)\u2002\u2006Energy", "orient": "bottom", "anchor": "middle", "frame": "group", "baseline": "alphabetic", "offset": 63, "dx": -12.5, "font": "DejaVu Serif", "fontSize": 25, "fontWeight": "normal", "color": "black"},
"mark": {"type": "line", "strokeWidth": 1.8, "strokeJoin": "round", "clip": true},
"encoding": {
"x": {"field": "day", "type": "quantitative", "scale": {"domain": [-1.5, 31.5], "nice": false, "zero": false}, "axis": {"values": [0,5,10,15,20,25,30], "title": "Time (days)"}},
"y": {"field": "value", "type": "quantitative", "scale": {"type": "symlog", "constant": 8.4e-17, "domain": [-1.15e-5, 1.14e-6], "nice": false, "zero": false}, "axis": {"values": [1e-7,1e-9,1e-11,1e-13,1e-15,0,-1e-15,-1e-13,-1e-11,-1e-9,-1e-7,-1e-5], "title": null, "labelExpr": "datum.value == 0 ? '0' : (datum.value < 0 ? '\u2212' : '') + '10\u207b' + (round(-log(abs(datum.value))/LN10) >= 10 ? substring('\u2070\u00b9\u00b2\u00b3\u2074\u2075\u2076\u2077\u2078\u2079', floor(round(-log(abs(datum.value))/LN10)/10), floor(round(-log(abs(datum.value))/LN10)/10) + 1) : '') + substring('\u2070\u00b9\u00b2\u00b3\u2074\u2075\u2076\u2077\u2078\u2079', round(-log(abs(datum.value))/LN10) % 10, round(-log(abs(datum.value))/LN10) % 10 + 1)"}},
"color": {"field": "order", "type": "nominal", "scale": {"domain": ["Order 3","Order 4","Order 5","Order 6"], "range": ["#1f77b4","#ff7f0e","#2ca02c","#d62728"]}, "legend": {"title": null, "orient": "none", "legendX": -36, "legendY": 286}}
}
}
],
"spacing": 158,
"bounds": "flush",
"resolve": {"scale": {"color": "independent", "y": "independent"}, "legend": {"color": "independent"}}
},
{
"width": 384, "height": 228,
"data": {"name": "enstrophy"},
"title": {"text": "(c)\u2002\u2006Potential enstrophy", "orient": "bottom", "anchor": "middle", "frame": "group", "baseline": "alphabetic", "offset": 60, "dx": -15, "font": "DejaVu Serif", "fontSize": 25, "fontWeight": "normal", "color": "black"},
"mark": {"type": "line", "strokeWidth": 1.8, "strokeJoin": "round", "clip": true},
"encoding": {
"x": {"field": "day", "type": "quantitative", "scale": {"domain": [-1.5, 31.5], "nice": false, "zero": false}, "axis": {"values": [0,5,10,15,20,25,30], "title": "Time (days)"}},
"y": {"field": "value", "type": "quantitative", "scale": {"type": "symlog", "constant": 8.4e-17, "domain": [-1.88e-2, 1.0e-3], "nice": false, "zero": false}, "axis": {"values": [1e-3,1e-5,1e-7,1e-9,1e-11,1e-13,1e-15,0,-1e-15,-1e-13,-1e-11,-1e-9,-1e-7,-1e-5,-1e-3], "title": null, "labelExpr": "datum.value == 0 ? '0' : (datum.value < 0 ? '\u2212' : '') + '10\u207b' + (round(-log(abs(datum.value))/LN10) >= 10 ? substring('\u2070\u00b9\u00b2\u00b3\u2074\u2075\u2076\u2077\u2078\u2079', floor(round(-log(abs(datum.value))/LN10)/10), floor(round(-log(abs(datum.value))/LN10)/10) + 1) : '') + substring('\u2070\u00b9\u00b2\u00b3\u2074\u2075\u2076\u2077\u2078\u2079', round(-log(abs(datum.value))/LN10) % 10, round(-log(abs(datum.value))/LN10) % 10 + 1)"}},
"color": {"field": "order", "type": "nominal", "scale": {"domain": ["Order 3","Order 4","Order 5","Order 6"], "range": ["#1f77b4","#ff7f0e","#2ca02c","#d62728"]}, "legend": {"title": null, "orient": "none", "legendX": -36, "legendY": 286}}
}
}
],
"spacing": 22,
"center": true,
"resolve": {"scale": {"color": "independent", "y": "independent"}, "legend": {"color": "independent"}}
}
